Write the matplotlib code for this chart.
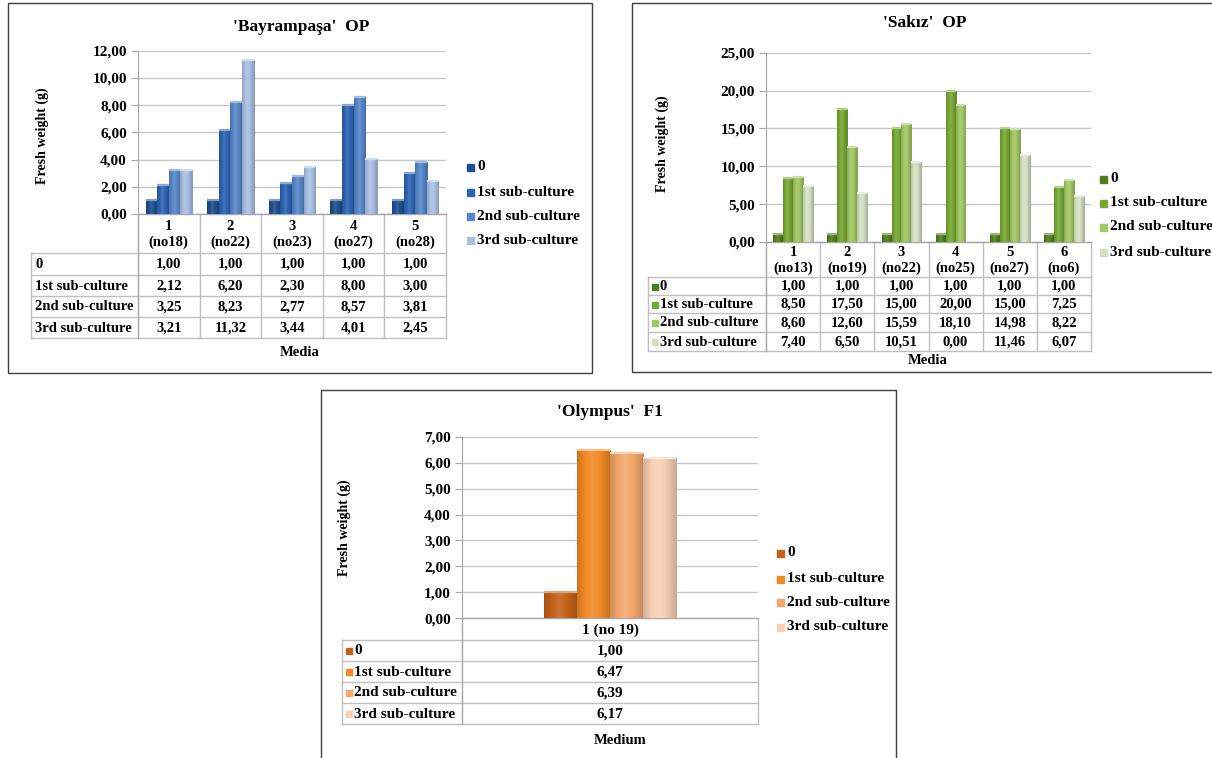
import numpy as np
import matplotlib
matplotlib.use("Agg")
import matplotlib.pyplot as plt
from matplotlib.patches import Rectangle
from matplotlib.colors import to_rgb

plt.rcParams['font.family'] = ['Liberation Serif', 'DejaVu Serif']
plt.rcParams['font.weight'] = 'bold'

# ---------------- data ----------------
series_names = ['0', '1st sub-culture', '2nd sub-culture', '3rd sub-culture']

bay_cats = ['1\n(no18)', '2\n(no22)', '3\n(no23)', '4\n(no27)', '5\n(no28)']
bay_0 = [1.00, 1.00, 1.00, 1.00, 1.00]
bay_1 = [2.12, 6.20, 2.30, 8.00, 3.00]
bay_2 = [3.25, 8.23, 2.77, 8.57, 3.81]
bay_3 = [3.21, 11.32, 3.44, 4.01, 2.45]

sak_cats = ['1\n(no13)', '2\n(no19)', '3\n(no22)', '4\n(no25)', '5\n(no27)', '6\n(no6)']
sak_0 = [1.00, 1.00, 1.00, 1.00, 1.00, 1.00]
sak_1 = [8.50, 17.50, 15.00, 20.00, 15.00, 7.25]
sak_2 = [8.60, 12.60, 15.59, 18.10, 14.98, 8.22]
sak_3 = [7.40, 6.50, 10.51, 0.00, 11.46, 6.07]

oly_cats = ['1 (no 19)']
oly_0 = [1.00]
oly_1 = [6.47]
oly_2 = [6.39]
oly_3 = [6.17]

blue = ['#1f4e8c', '#2d64b1', '#5686c8', '#a9bfe2']
green = ['#507e1f', '#76a733', '#a2c664', '#d4e0c2']
orange = ['#c4621a', '#f28a26', '#f4a66b', '#f8cfb4']

W, H = 1212, 758
fig = plt.figure(figsize=(W / 100, H / 100), dpi=100)
ov = fig.add_axes([0, 0, 1, 1])
ov.set_xlim(0, W)
ov.set_ylim(H, 0)
ov.axis('off')

GRID = '#c8c8c8'
LINE = '#bfbfbf'


def fmt(v):
    return f"{v:.2f}".replace('.', ',')


def add_ax(l, t, r, b):
    return fig.add_axes([l / W, 1 - b / H, (r - l) / W, (b - t) / H])


def shade(c, f):
    r, g, b = to_rgb(c)
    if f >= 0:
        return (r + (1 - r) * f, g + (1 - g) * f, b + (1 - b) * f)
    f = -f
    return (r * (1 - f), g * (1 - f), b * (1 - f))


def panel(frame, title, title_xy, plot, ymax, ystep, cats, data, colors,
          group_frac, table_left, header_bottom, row_lines, xlabel, xlabel_xy,
          leg_x, leg_ys, ylab_xy, table_markers, fs_tick=11, fs_tab=10.5,
          fs_leg=11):
    fl, ft, fr, fb = frame
    ov.add_patch(Rectangle((fl, ft), fr - fl, fb - ft, fill=False,
                           ec='#404040', lw=1.0))
    ov.text(title_xy[0], title_xy[1], title, ha='center', va='center',
            fontsize=12.5, fontweight='bold')
    pl, pt, pr, pb = plot
    ax = add_ax(pl, pt, pr, pb)
    n = len(cats)
    x = np.arange(n)
    bw = group_frac / 4
    for i, (vals, col) in enumerate(zip(data, colors)):
        xs = x - group_frac / 2 + bw * (i + 0.5)
        bars = ax.bar(xs, vals, width=bw, color=col,
                      edgecolor=shade(col, -0.25), linewidth=0.6, zorder=3)
        grad = np.linspace(0, 1, 40)
        prof = np.where(grad < 0.45, -0.15 + grad * 0.6, 0.12 - (grad - 0.45) * 0.55)
        img = np.array([[shade(col, f) for f in prof]])
        for b in bars:
            if b.get_height() <= 0:
                continue
            x0 = b.get_x()
            im = ax.imshow(img, extent=(x0, x0 + b.get_width(), 0, b.get_height()),
                           aspect='auto', zorder=3.5, interpolation='bilinear')
            im.set_clip_path(b)
            ax.plot([x0, x0 + b.get_width()], [b.get_height()] * 2,
                    color=shade(col, 0.45), lw=1.6, zorder=4,
                    solid_capstyle='butt')
    ax.set_xlim(-0.5, n - 0.5)
    ax.set_ylim(0, ymax)
    ticks = np.arange(0, ymax + 1e-9, ystep)
    ax.set_yticks(ticks)
    ax.set_yticklabels([fmt(t) for t in ticks], fontsize=fs_tick,
                       fontweight='bold')
    ax.set_xticks([])
    ax.grid(axis='y', color=GRID, lw=1.0, zorder=0)
    ax.set_axisbelow(True)
    for s in ['top', 'right', 'bottom']:
        ax.spines[s].set_visible(False)
    ax.spines['left'].set_color('#a6a6a6')
    ax.tick_params(axis='y', length=5, color='#a6a6a6', pad=3, width=0.8)
    ax.patch.set_alpha(0)

    ov.text(ylab_xy[0], ylab_xy[1], 'Fresh weight (g)', rotation=90,
            ha='center', va='center', fontsize=10, fontweight='bold')

    # table
    cw = (pr - pl) / n
    tb = row_lines[-1]
    ov.plot([table_left, pr], [header_bottom, header_bottom], color=LINE, lw=1)
    for yy in row_lines:
        ov.plot([table_left, pr], [yy, yy], color=LINE, lw=1)
    ov.plot([table_left, table_left], [header_bottom, tb], color=LINE, lw=1)
    ov.plot([pl, pl], [pb, tb], color='#a6a6a6', lw=1)
    for k in range(1, n + 1):
        xx = pl + cw * k
        ov.plot([xx, xx], [pb, tb], color=LINE, lw=1)
    ov.plot([pl, pr], [pb, pb], color='#a6a6a6', lw=1)
    for k, c in enumerate(cats):
        ov.text(pl + cw * (k + 0.5), (pb + header_bottom) / 2 + 1, c,
                ha='center', va='center', fontsize=fs_tab, fontweight='bold',
                linespacing=1.15)
    tops = [header_bottom] + list(row_lines[:-1])
    for r in range(4):
        yc = (tops[r] + row_lines[r]) / 2 + 0.5
        tx = table_left + 4
        if table_markers:
            ov.add_patch(Rectangle((tx, yc - 3), 6, 6, color=colors[r]))
            tx += 8
        ov.text(tx, yc, series_names[r], ha='left', va='center',
                fontsize=fs_tab, fontweight='bold')
        for k in range(n):
            ov.text(pl + cw * (k + 0.5), yc, fmt(data[r][k]), ha='center',
                    va='center', fontsize=fs_tab, fontweight='bold')
    ov.text(xlabel_xy[0], xlabel_xy[1], xlabel,
            ha='center', va='center', fontsize=10.5, fontweight='bold')

    # legend
    for r in range(4):
        ov.add_patch(Rectangle((leg_x, leg_ys[r] - 3.5), 7, 7, color=colors[r]))
        ov.text(leg_x + 10, leg_ys[r], series_names[r], ha='left', va='center',
                fontsize=fs_leg, fontweight='bold')


panel(frame=(8, 3, 592, 373), title="'Bayrampaşa'  OP", title_xy=(301, 27),
      plot=(138, 50.7, 446, 214), ymax=12, ystep=2, cats=bay_cats,
      data=[bay_0, bay_1, bay_2, bay_3], colors=blue, group_frac=0.755,
      table_left=31, header_bottom=253, row_lines=[275, 296, 317, 338],
      xlabel='Media', xlabel_xy=(300, 353), leg_x=467, leg_ys=[167, 192, 216, 240],
      ylab_xy=(42, 136), table_markers=False)

panel(frame=(632, 3, 1216, 372), title="'Sakız'  OP", title_xy=(925, 23),
      plot=(766, 52.7, 1091, 242), ymax=25, ystep=5, cats=sak_cats,
      data=[sak_0, sak_1, sak_2, sak_3], colors=green, group_frac=0.73,
      table_left=648, header_bottom=277, row_lines=[295, 313, 332, 351],
      xlabel='Media', xlabel_xy=(928, 361), leg_x=1100, leg_ys=[179, 203, 227, 252],
      ylab_xy=(662, 144), table_markers=True, fs_tab=10.5)

panel(frame=(321, 390, 896, 762), title="'Olympus'  F1", title_xy=(610, 412),
      plot=(462, 436.7, 758, 618.3), ymax=7, ystep=1, cats=oly_cats,
      data=[oly_0, oly_1, oly_2, oly_3], colors=orange, group_frac=0.446,
      table_left=342, header_bottom=640, row_lines=[661, 682, 703, 724],
      xlabel='Medium', xlabel_xy=(620, 741), leg_x=777, leg_ys=[553, 579, 602, 627],
      ylab_xy=(344, 528), table_markers=True, fs_tab=11)

fig.savefig('out.png', dpi=100)
